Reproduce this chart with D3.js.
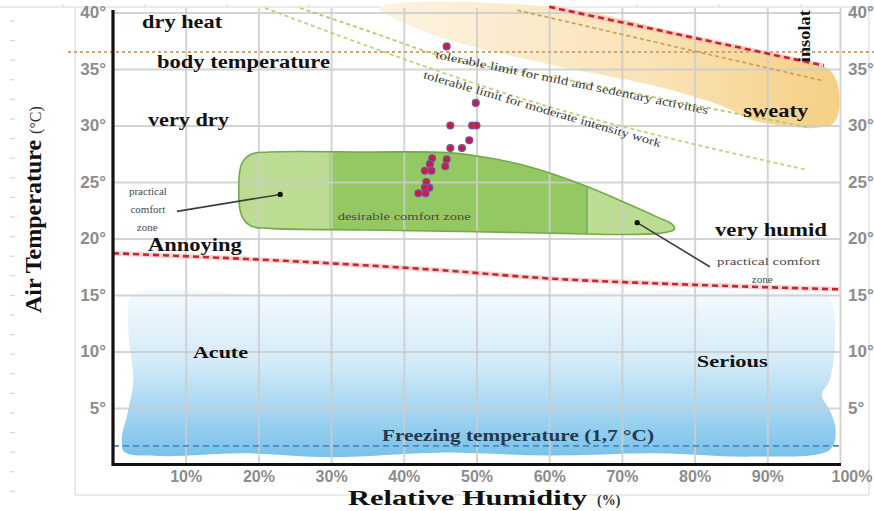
<!DOCTYPE html>
<html>
<head>
<meta charset="utf-8">
<script src="https://cdn.jsdelivr.net/npm/d3@7"></script>
<style>
  html, body { margin: 0; padding: 0; background: #fff; }
  svg { display: block; }
</style>
</head>
<body>
<div id="chart"></div>
<script>
const WIDTH = 874, HEIGHT = 511;

// axis ticks
const humidityTicks = [10, 20, 30, 40, 50, 60, 70, 80, 90, 100];
const tempTicks = [5, 10, 15, 20, 25, 30, 35, 40];

// measured points: relative humidity (%) and air temperature (°C)
const pointHumidity = [45.9, 49.9, 46.4, 49.4, 50.0, 49.0, 46.4, 48.0, 43.9, 45.9, 43.6, 45.7, 42.9, 43.8, 43.1, 43.5, 42.9, 42.0, 43.0];
const pointTemp     = [37.0, 32.0, 30.0, 30.0, 30.0, 28.7, 28.0, 28.0, 27.1, 27.0, 26.6, 26.4, 26.0, 26.0, 25.0, 24.5, 24.5, 24.0, 24.0];

// comfort zone outline
const comfortHum  = [17.3, 17.7, 19.0, 21.5, 35, 46, 52, 57, 61, 65.2, 70, 74.5, 77.0, 77.2, 75.0, 70, 65.2, 50, 35, 21.5, 19.0, 17.7];
const comfortTemp = [24.2, 26.6, 27.45, 27.65, 27.65, 27.6, 27.1, 26.4, 25.6, 24.6, 23.3, 22.0, 21.2, 20.8, 20.45, 20.35, 20.4, 20.6, 20.75, 20.9, 21.1, 22.0];
const desirableFrom = 29.8, desirableTo = 65.2;

// cold zone outline
const coldHum  = [2.8, 2.1, 2.8, 2.1, 1.2, 1.6, 6.5, 18, 30, 45, 60, 75, 88, 98.6, 99.4, 98.6, 97.5, 98.6, 99.3, 99.0, 97.9, 60, 20];
const coldTemp = [15.0, 11.9, 7.5, 4.8, 2.2, 1.1, 0.75, 1.0, 0.65, 1.05, 0.8, 1.0, 0.7, 1.3, 3.05, 4.8, 6.15, 7.5, 11.0, 14.1, 15.1, 15.2, 15.1];

// sweaty zone outline
const sweatyHum  = [36.7, 62.0, 80.0, 97.8, 98.9, 99.7, 99.7, 98.6, 89.0, 83.5, 73.9, 60.1, 44.2];
const sweatyTemp = [40.4, 40.4, 37.8, 35.2, 34.7, 33.6, 30.9, 30.0, 30.3, 31.8, 33.6, 35.4, 38.0];

// limit lines
const bodyTemp = 36.5;
const freezingTemp = 1.65;
const annoyingHum  = [0, 30, 45, 59, 80, 100];
const annoyingTemp = [18.7, 17.8, 17.2, 16.5, 15.9, 15.5];
const insolationHum  = [60.0, 97.8];
const insolationTemp = [40.5, 35.3];
const sweatLineHum  = [55.6, 97.4];
const sweatLineTemp = [40.2, 34.0];
const mildHum  = [25.7, 36.7, 44.3, 62.9, 80.7, 96.0];
const mildTemp = [40.4, 38.0, 36.3, 34.0, 31.7, 29.8];
const moderateHum  = [20.9, 32.6, 42.6, 58.7, 75.1, 95.3];
const moderateTemp = [40.4, 37.6, 35.3, 31.9, 29.1, 26.1];

// zone names
const zoneNames = ['dry heat', 'body temperature', 'very dry', 'Annoying', 'very humid', 'sweaty', 'Acute', 'Serious'];

const svg = d3.select('#chart')
  .append('svg')
    .attr('width', WIDTH)
    .attr('height', HEIGHT);

const x = d3.scaleLinear().domain([0, 100]).range([113, 840]);
const y = d3.scaleLinear().domain([0, 40]).range([464.5, 12.5]);
const TOP = 8;

const serif = '"Liberation Serif", "DejaVu Serif", serif';
const sans = '"Liberation Sans", Arial, sans-serif';

const defs = svg.append('defs');
const coldGrad = defs.append('linearGradient').attr('id', 'cold').attr('x1', 0).attr('y1', 0).attr('x2', 0).attr('y2', 1);
coldGrad.append('stop').attr('offset', '0%').attr('stop-color', '#f6fbfe');
coldGrad.append('stop').attr('offset', '45%').attr('stop-color', '#d2eaf8');
coldGrad.append('stop').attr('offset', '100%').attr('stop-color', '#78c1ea');
const hotGrad = defs.append('linearGradient').attr('id', 'hot').attr('x1', 0).attr('y1', 0).attr('x2', 1).attr('y2', 0);
hotGrad.append('stop').attr('offset', '0%').attr('stop-color', '#fdf3e3');
hotGrad.append('stop').attr('offset', '60%').attr('stop-color', '#f9e2b5');
hotGrad.append('stop').attr('offset', '100%').attr('stop-color', '#f5d084');

// scanner frame
const frame = svg.append('g').attr('stroke', '#d6d6d6').attr('fill', 'none');
frame.append('path').attr('d', `M0,7H874M75,7V495H869V7`);
frame.selectAll('line.top').data(d3.range(63, 874, 82)).join('line')
  .attr('x1', d => d).attr('x2', d => d).attr('y1', 4).attr('y2', 7);
frame.selectAll('line.left').data(d3.range(21, 505, 19.6)).join('line')
  .attr('x1', 10).attr('x2', 15).attr('y1', d => d).attr('y2', d => d).attr('stroke', '#cfcfcf');

const area = d3.line().x(d => x(d[0])).y(d => y(d[1]));

// sweaty zone
svg.append('path')
  .attr('d', area.curve(d3.curveCatmullRomClosed)(d3.zip(sweatyHum, sweatyTemp)))
  .attr('fill', 'url(#hot)');

// cold zone
svg.append('path')
  .attr('d', area.curve(d3.curveCatmullRomClosed)(d3.zip(coldHum, coldTemp)))
  .attr('fill', 'url(#cold)');

// comfort zone
const comfortPath = area.curve(d3.curveCatmullRomClosed)(d3.zip(comfortHum, comfortTemp));
defs.append('clipPath').attr('id', 'comfortClip').append('path').attr('d', comfortPath);
svg.append('path').attr('d', comfortPath).attr('fill', '#bcdc94');
svg.append('rect')
  .attr('clip-path', 'url(#comfortClip)')
  .attr('x', x(desirableFrom)).attr('width', x(desirableTo) - x(desirableFrom))
  .attr('y', y(30)).attr('height', y(18) - y(30))
  .attr('fill', '#93c863');

// grid + axes labels
const gx = svg.append('g')
  .attr('transform', `translate(0,${y(0)})`)
  .call(d3.axisBottom(x).tickValues(humidityTicks).tickSize(-(y(0) - TOP)).tickPadding(6).tickFormat(d => d + '%'));
const gy = svg.append('g')
  .attr('transform', `translate(${x(0)},0)`)
  .call(d3.axisLeft(y).tickValues(tempTicks).tickSize(-(x(100) - x(0))).tickPadding(7).tickFormat(d => d + '°'));
const gyr = svg.append('g')
  .attr('transform', `translate(${x(100)},0)`)
  .call(d3.axisRight(y).tickValues(tempTicks).tickSize(0).tickPadding(8).tickFormat(d => d + '°'));
[gx, gy, gyr].forEach(g => {
  g.select('.domain').remove();
  g.selectAll('.tick line').attr('stroke', '#cccccc').attr('stroke-width', 2).attr('opacity', 0.85);
  g.selectAll('.tick text')
    .attr('fill', '#8c8c8c')
    .style('font-family', sans)
    .style('font-weight', 'bold')
    .style('font-size', '17px');
});
gx.selectAll('.tick text').style('font-size', '16px');
gx.selectAll('.tick text').filter(d => d === 100).attr('text-anchor', 'start').attr('x', -9);

// comfort outline on top of grid
svg.append('path').attr('d', comfortPath).attr('fill', 'none').attr('stroke', '#74a94a').attr('stroke-width', 1.6);
svg.append('line')
  .attr('clip-path', 'url(#comfortClip)')
  .attr('x1', x(desirableTo)).attr('x2', x(desirableTo))
  .attr('y1', y(28)).attr('y2', y(19))
  .attr('stroke', '#74a94a').attr('stroke-width', 1.4);

// limit lines
const line = d3.line().x(d => x(d[0])).y(d => y(d[1])).curve(d3.curveMonotoneX);
svg.append('line')
  .attr('x1', 68).attr('x2', WIDTH).attr('y1', y(bodyTemp)).attr('y2', y(bodyTemp))
  .attr('stroke', '#cfa577').attr('stroke-width', 2).attr('stroke-dasharray', '3,3');
svg.append('path').attr('d', line(d3.zip(sweatLineHum, sweatLineTemp)))
  .attr('fill', 'none').attr('stroke', '#c99b52').attr('stroke-width', 1.6).attr('stroke-dasharray', '4,3');
svg.append('path').attr('d', line(d3.zip(mildHum, mildTemp)))
  .attr('fill', 'none').attr('stroke', '#b9c96a').attr('stroke-width', 1.8).attr('stroke-dasharray', '4,3');
svg.append('path').attr('d', line(d3.zip(moderateHum, moderateTemp)))
  .attr('fill', 'none').attr('stroke', '#c3d07c').attr('stroke-width', 1.8).attr('stroke-dasharray', '4,3');
[[annoyingHum, annoyingTemp], [insolationHum, insolationTemp]].forEach(([h, t]) => {
  svg.append('path').attr('d', line(d3.zip(h, t)))
    .attr('fill', 'none').attr('stroke', '#f4b8b8').attr('stroke-width', 5).attr('opacity', 0.6);
  svg.append('path').attr('d', line(d3.zip(h, t)))
    .attr('fill', 'none').attr('stroke', '#c4262e').attr('stroke-width', 2.6).attr('stroke-dasharray', '6,4');
});
svg.append('line')
  .attr('x1', x(0)).attr('x2', x(100) + 2).attr('y1', y(freezingTemp)).attr('y2', y(freezingTemp))
  .attr('stroke', '#4f86bd').attr('stroke-width', 1.8).attr('stroke-dasharray', '6,4');

// axis lines
svg.append('path')
  .attr('d', `M${x(0)},${TOP + 2}V${y(0)}H${x(100) + 1}`)
  .attr('fill', 'none').attr('stroke', '#111').attr('stroke-width', 3.2);

// pointers
const pointers = [[[23.0, 23.9], [8.8, 22.4]], [[72.1, 21.4], [82.1, 17.5]]];
pointers.forEach(p => {
  svg.append('line')
    .attr('x1', x(p[0][0])).attr('y1', y(p[0][1])).attr('x2', x(p[1][0])).attr('y2', y(p[1][1]))
    .attr('stroke', '#3d3d3d').attr('stroke-width', 1.6);
  svg.append('circle').attr('cx', x(p[0][0])).attr('cy', y(p[0][1])).attr('r', 2.6).attr('fill', '#111');
});

// measured points
svg.selectAll('circle.pt')
  .data(d3.zip(pointHumidity, pointTemp))
  .join('circle')
    .attr('class', 'pt')
    .attr('cx', d => x(d[0]))
    .attr('cy', d => y(d[1]))
    .attr('r', 3.4)
    .attr('fill', '#d5173c')
    .attr('stroke', '#6e55a6')
    .attr('stroke-width', 1.3);

// zone names (start humidity, baseline temp, width)
const zonePos = [[4.0, 38.6, 80], [6.05, 35.1, 173], [4.8, 30.0, 81], [4.8, 18.9, 94],
                 [82.8, 20.2, 112], [86.7, 30.75, 65], [11.0, 9.4, 55], [80.3, 8.6, 71]];
svg.selectAll('text.zone')
  .data(zoneNames)
  .join('text')
    .attr('class', 'zone')
    .attr('x', (d, i) => x(zonePos[i][0]))
    .attr('y', (d, i) => y(zonePos[i][1]))
    .attr('textLength', (d, i) => zonePos[i][2])
    .attr('lengthAdjust', 'spacingAndGlyphs')
    .style('font-family', serif)
    .style('font-weight', 'bold')
    .style('font-size', (d, i) => i >= 6 ? '16px' : '18px')
    .attr('fill', '#111')
    .text(d => d);

svg.append('text')
  .attr('x', x(37)).attr('y', y(2.08))
  .attr('textLength', 272).attr('lengthAdjust', 'spacingAndGlyphs')
  .style('font-family', serif).style('font-weight', 'bold').style('font-size', '16px')
  .attr('fill', '#26384a')
  .text('Freezing temperature (1,7 °C)');

svg.append('text')
  .attr('transform', `translate(${x(95.9)},${y(35.6)}) rotate(-90)`)
  .attr('textLength', 52).attr('lengthAdjust', 'spacingAndGlyphs')
  .style('font-family', serif).style('font-weight', 'bold').style('font-size', '16px')
  .attr('fill', '#111')
  .text('insolat');

// small notes
const small = (txt, hx, ty, anchor, len) => {
  const t = svg.append('text')
    .attr('x', x(hx)).attr('y', y(ty))
    .attr('text-anchor', anchor)
    .style('font-family', serif).style('font-size', '11px')
    .attr('fill', '#4a4a4a')
    .text(txt);
  if (len) t.attr('textLength', len).attr('lengthAdjust', 'spacingAndGlyphs');
  return t;
};
small('practical', 4.8, 23.85, 'middle');
small('comfort', 4.8, 22.25, 'middle');
small('zone', 4.7, 20.65, 'middle');
small('practical  comfort', 83.1, 17.65, 'start', 103);
small('zone', 89.3, 16.06, 'middle');
small('desirable comfort zone', 30.9, 21.6, 'start', 133);

// rotated limit notes along their lines
const along = (txt, p0, p1, len) => {
  const ang = Math.atan2(y(p1[1]) - y(p0[1]), x(p1[0]) - x(p0[0])) * 180 / Math.PI;
  svg.append('text')
    .attr('transform', `translate(${x(p0[0])},${y(p0[1])}) rotate(${ang})`)
    .attr('textLength', len).attr('lengthAdjust', 'spacingAndGlyphs')
    .style('font-family', serif).style('font-size', '11.5px')
    .attr('fill', '#3a3a3a')
    .text(txt);
};
along('tolerable limit for mild and sedentary activities', [44.3, 35.97], [81.7, 31.0], 278);
along('tolerable limit for moderate intensity work', [42.6, 34.2], [75.1, 28.1], 247);

// axis titles
const yt = svg.append('text')
  .attr('transform', `translate(41,${313}) rotate(-90)`)
  .style('font-family', serif).attr('fill', '#111');
yt.append('tspan').style('font-weight', 'bold').style('font-size', '24px').text('Air Temperature ');
yt.append('tspan').style('font-size', '16px').attr('fill', '#333').text('(°C)');

const xt = svg.append('text')
  .attr('x', 348).attr('y', 505)
  .style('font-family', serif).attr('fill', '#111');
xt.append('tspan').style('font-weight', 'bold').style('font-size', '20px').attr('textLength', 239).attr('lengthAdjust', 'spacingAndGlyphs').text('Relative Humidity');
xt.append('tspan').attr('dx', 10).style('font-weight', 'bold').style('font-size', '14px').attr('fill', '#333').text('(%)');
</script>
</body>
</html>
